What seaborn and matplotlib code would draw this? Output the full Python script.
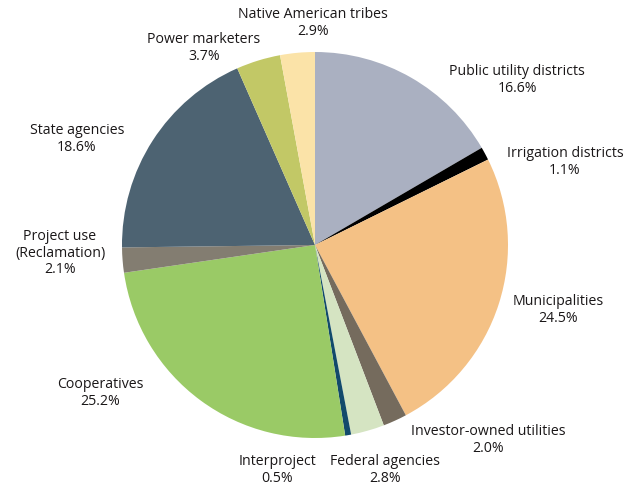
import matplotlib
matplotlib.use("Agg")
import matplotlib.pyplot as plt
import seaborn as sns

# Share of power by customer class (percent), clockwise from 12 o'clock
categories = [
    "Public utility districts", "Irrigation districts", "Municipalities",
    "Investor-owned utilities", "Federal agencies", "Interproject",
    "Cooperatives", "Project use\n(Reclamation)", "State agencies",
    "Power marketers", "Native American tribes",
]
shares = [16.6, 1.1, 24.5, 2.0, 2.8, 0.5, 25.2, 2.1, 18.6, 3.7, 2.9]
colors = [
    "#aab0c1", "#000000", "#f4c185", "#756b5d", "#d5e4c2", "#124a6b",
    "#9aca66", "#837d71", "#4d6372", "#c2c866", "#fbe3a8",
]

# Label anchor points in figure pixels (x, y from top)
label_pos = [
    (517, 80), (565, 162), (558, 310), (488, 440), (385, 470), (277, 470),
    (100, 393), (60, 253), (77, 139), (204, 48), (313, 23),
]

sns.set_theme(style="white")
plt.rcParams["font.family"] = ["Open Sans", "DejaVu Sans"]

W, H = 640, 491
fig = plt.figure(figsize=(W / 100, H / 100), dpi=100)
cx, cy, r = 315, 245, 193
ax = fig.add_axes([(cx - r) / W, (H - cy - r) / H, 2 * r / W, 2 * r / H])
ax.pie(shares, colors=colors, startangle=90, counterclock=False, radius=1,
       wedgeprops=dict(linewidth=0))
ax.set_xlim(-1, 1)
ax.set_ylim(-1, 1)
ax.set_aspect("equal")
ax.axis("off")

for name, val, (px, py) in zip(categories, shares, label_pos):
    fig.text(px / W, 1 - py / H, f"{name}\n{val:.1f}%", ha="center", va="center",
             fontsize=10.2, color="#1a1718", linespacing=1.12)

fig.savefig("out.png", dpi=100)
